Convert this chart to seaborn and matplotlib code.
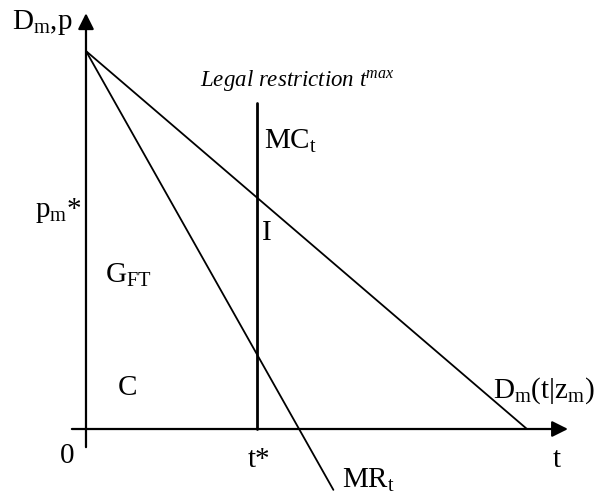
import matplotlib
matplotlib.use("Agg")
import matplotlib.pyplot as plt
import seaborn as sns
import pandas as pd

# ---- data (economic diagram units) ----
demand_t = [0.0, 10.0]
demand_p = [10.0, 0.0]
mr_t = [0.0, 5.61]
mr_p = [10.0, -1.61]
t_star = 3.88
restriction_p = [0.0, 8.62]
x_axis_range = [-0.32, 10.93]
y_axis_range = [-0.48, 11.0]

sns.set_theme(style="white")
plt.rcParams['font.family'] = ['Liberation Serif', 'DejaVu Serif']
plt.rcParams['mathtext.fontset'] = 'custom'
plt.rcParams['mathtext.rm'] = 'Liberation Serif'
plt.rcParams['mathtext.it'] = 'Liberation Serif:italic'

fig = plt.figure(figsize=(5.94, 4.95), dpi=100)
ax = fig.add_axes([0, 0, 1, 1])
ax.set_xlim(-1.95, 11.52)
ax.set_ylim(-1.746, 11.35)
ax.axis('off')

lines = pd.concat([
    pd.DataFrame({'t': demand_t, 'p': demand_p, 'curve': 'demand'}),
    pd.DataFrame({'t': mr_t, 'p': mr_p, 'curve': 'MR'}),
])
sns.lineplot(data=lines, x='t', y='p', units='curve', estimator=None,
             sort=False, color='black', lw=1.3, ax=ax)
sns.lineplot(x=[t_star, t_star], y=restriction_p, sort=False,
             estimator=None, color='black', lw=2.0, ax=ax)

arrow_kw = dict(arrowstyle='-|>,head_length=0.6,head_width=0.3',
                mutation_scale=16, lw=1.6, color='black',
                shrinkA=0, shrinkB=0)
ax.annotate('', xy=(x_axis_range[1], 0), xytext=(x_axis_range[0], 0),
            arrowprops=arrow_kw)
ax.annotate('', xy=(0, y_axis_range[1]), xytext=(0, y_axis_range[0]),
            arrowprops=arrow_kw)

big = 21
labels = [
    ('D$_\\mathrm{m}$,p', -1.68, 10.58),
    ('MC$_\\mathrm{t}$', 4.04, 7.41),
    ('p$_\\mathrm{m}$*', -1.16, 5.61),
    ('I', 3.99, 5.0),
    ('G$_\\mathrm{FT}$', 0.43, 3.86),
    ('C', 0.73, 0.90),
    ('0', -0.59, -0.90),
    ('t*', 3.67, -1.0),
    ('MR$_\\mathrm{t}$', 5.80, -1.56),
    ('t', 10.59, -1.0),
    ('D$_\\mathrm{m}$(t|z$_\\mathrm{m}$)', 9.23, 0.82),
]
for s, x, y in labels:
    ax.text(x, y, s, fontsize=big, ha='left', va='baseline', color='black')

ax.text(2.585, 9.07, 'Legal restriction t$^{\\mathit{max}}$', fontsize=16.5,
        style='italic', ha='left', va='baseline', color='black')

fig.savefig('out.png', dpi=100)
